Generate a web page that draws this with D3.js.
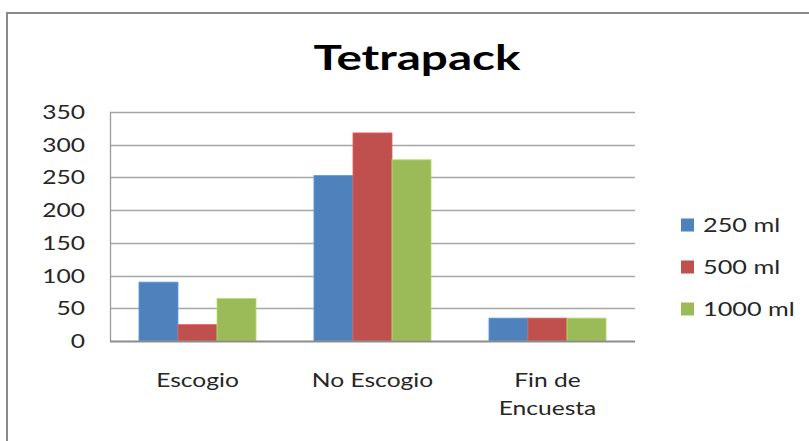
<!DOCTYPE html>
<html>
<head>
<meta charset="utf-8">
<script src="https://cdn.jsdelivr.net/npm/d3@7"></script>
<style>
  html, body { margin: 0; padding: 0; background: #fff; }
  svg { display: block; }
  text { font-family: Lato, "Open Sans", sans-serif; fill: #262626; }
</style>
</head>
<body>
<svg id="chart" width="809" height="441"></svg>
<script>
const title = "Tetrapack";
const categories = [["Escogio"], ["No Escogio"], ["Fin de", "Encuesta"]];
const seriesNames = ["250 ml", "500 ml", "1000 ml"];
const seriesColors = ["#4F81BD", "#C0504D", "#9BBB59"];
const values250 = [90, 253, 35];
const values500 = [25, 318, 35];
const values1000 = [65, 277, 35];
const yTicks = [0, 50, 100, 150, 200, 250, 300, 350];

const series = [values250, values500, values1000];

const SX = 1.33; // horizontal stretch of the reference's text

const svg = d3.select("#chart");

// chart frame
svg.append("rect")
  .attr("x", 7).attr("y", 13).attr("width", 830).attr("height", 460)
  .attr("fill", "#fff").attr("stroke", "#8a8a8a").attr("stroke-width", 2);

const plot = { left: 110, right: 635, top: 112, bottom: 341 };

const y = d3.scaleLinear().domain([0, 350]).range([plot.bottom, plot.top]);
const catKeys = categories.map(c => c.join(" "));
const x0 = d3.scaleBand().domain(catKeys).range([plot.left, plot.right])
  .paddingInner(0.331).paddingOuter(0.1655);
const x1 = d3.scaleBand().domain(seriesNames).range([0, x0.bandwidth()]);

// gridlines
svg.append("g").selectAll("line").data(yTicks.filter(t => t > 0)).join("line")
  .attr("x1", plot.left).attr("x2", plot.right)
  .attr("y1", d => Math.round(y(d)) + 0.5).attr("y2", d => Math.round(y(d)) + 0.5)
  .attr("stroke", "#a6a6a6").attr("stroke-width", 1.3);

// y axis line
svg.append("line")
  .attr("x1", plot.left + 0.5).attr("x2", plot.left + 0.5)
  .attr("y1", plot.top).attr("y2", plot.bottom)
  .attr("stroke", "#9a9a9a").attr("stroke-width", 1.3);

// bars
const groups = svg.append("g").selectAll("g").data(catKeys).join("g")
  .attr("transform", d => `translate(${x0(d)},0)`);
groups.selectAll("rect")
  .data((d, i) => seriesNames.map((s, j) => ({ s, j, v: series[j][i] })))
  .join("rect")
  .attr("x", d => x1(d.s))
  .attr("y", d => y(d.v))
  .attr("width", x1.bandwidth())
  .attr("height", d => y(0) - y(d.v))
  .attr("fill", d => seriesColors[d.j])
  .attr("stroke", d => d3.color(seriesColors[d.j]).brighter(0.5))
  .attr("stroke-width", 0.8);

// baseline
svg.append("line")
  .attr("x1", plot.left).attr("x2", plot.right)
  .attr("y1", plot.bottom + 0.5).attr("y2", plot.bottom + 0.5)
  .attr("stroke", "#8c8c8c").attr("stroke-width", 2);

// y tick labels
const yAxis = d3.axisLeft(y).tickValues(yTicks).tickSize(0).tickPadding(0);
const yg = svg.append("g").attr("transform", `translate(85,0)`).call(yAxis);
yg.select(".domain").remove();
yg.selectAll("text")
  .attr("x", null).attr("dy", null)
  .attr("transform", `translate(0,6.5) scale(${SX},1)`)
  .style("font-family", "Lato, sans-serif").style("font-size", "18.5px")
  .attr("fill", "#262626");

// category labels
const cl = svg.append("g").selectAll("g").data(categories).join("g")
  .attr("transform", (d, i) => `translate(${x0(catKeys[i]) + x0.bandwidth() / 2},387) scale(${SX},1)`);
cl.selectAll("text").data(d => d).join("text")
  .attr("y", (d, i) => i * 28)
  .attr("text-anchor", "middle")
  .style("font-size", "18.5px")
  .text(d => d);

// title
svg.append("text")
  .attr("transform", `translate(417,70) scale(1.36,1)`)
  .attr("text-anchor", "middle")
  .style("font-size", "35px").style("font-weight", "bold")
  .style("fill", "#000")
  .text(title);

// legend
const lg = svg.append("g").selectAll("g").data(seriesNames).join("g")
  .attr("transform", (d, i) => `translate(681,${225 + i * 42})`);
lg.append("rect").attr("x", 0).attr("y", -6.5).attr("width", 13).attr("height", 13)
  .attr("fill", (d, i) => seriesColors[i]);
lg.append("text")
  .attr("transform", `translate(22,6.5) scale(${SX},1)`)
  .style("font-size", "19px")
  .text(d => d);
</script>
</body>
</html>
